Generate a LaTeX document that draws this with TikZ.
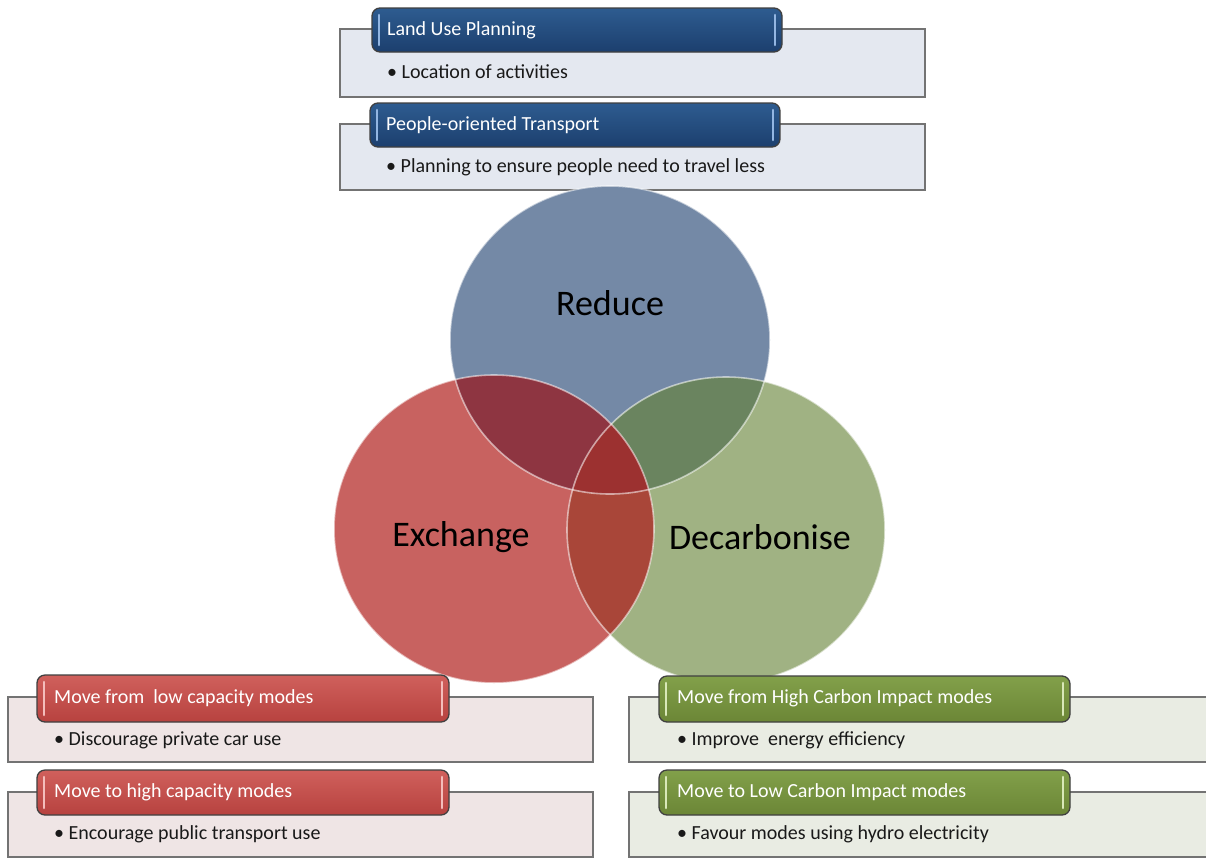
\documentclass[tikz,border=0pt]{standalone}
\usepackage{fontspec}
\setmainfont{Carlito}
\definecolor{bodyblue}{HTML}{E4E8F0}
\definecolor{bodyred}{HTML}{EFE5E5}
\definecolor{bodygreen}{HTML}{E9ECE3}
\definecolor{hblueT}{HTML}{2E5C90}
\definecolor{hblueB}{HTML}{1C3F6E}
\definecolor{hredT}{HTML}{D0605C}
\definecolor{hredB}{HTML}{B7423F}
\definecolor{hgreenT}{HTML}{82A04A}
\definecolor{hgreenB}{HTML}{6B8636}
\definecolor{barblue}{HTML}{93B6E2}
\definecolor{barred}{HTML}{F4BDBB}
\definecolor{bargreen}{HTML}{D9E8B8}
\definecolor{cR}{HTML}{7489A6}
\definecolor{cE}{HTML}{C86260}
\definecolor{cD}{HTML}{A0B283}
\definecolor{cRE}{HTML}{8E3541}
\definecolor{cRD}{HTML}{6A845F}
\definecolor{cED}{HTML}{A94639}
\definecolor{cRED}{HTML}{9C3130}
\tikzset{
  bodybox/.style={draw=black!55, line width=1.3pt},
  headbox/.style={draw=black!75, line width=1.3pt, rounded corners=8pt},
  hblue/.style={headbox, top color=hblueT, bottom color=hblueB},
  hred/.style={headbox, top color=hredT, bottom color=hredB},
  hgreen/.style={headbox, top color=hgreenT, bottom color=hgreenB},
  hbar/.style={line width=2.6pt, line cap=round},
  htext/.style={anchor=west, text=white, font=\fontsize{20}{24}\selectfont, inner sep=0pt},
  btext/.style={anchor=west, text=black!90, font=\fontsize{20}{24}\selectfont, inner sep=0pt},
  ctext/.style={text=black, font=\fontsize{36}{42}\selectfont, inner sep=0pt},
  rim/.style={draw=white, draw opacity=0.55, line width=1.6pt}
}
\begin{document}
\begin{tikzpicture}[x=1pt,y=-1pt]
\useasboundingbox (0,0) rectangle (1206,857);
\fill[white] (0,0) rectangle (1206,857);

% ---------- Reduce panels ----------
\path[bodybox, fill=bodyblue] (340,29) rectangle (925,97);
\path[hblue] (372,8) rectangle (782,52);
\draw[hbar, barblue] (379,15) -- (379,45);
\draw[hbar, barblue] (775,15) -- (775,45);
\node[htext] (lup) at (387,30) {Land Use Planning};
\node[btext] (lupb) at (387,72) {\textbullet\ Location of activities};

\path[bodybox, fill=bodyblue] (340,124) rectangle (925,190);
\path[hblue] (370,103) rectangle (780,147);
\draw[hbar, barblue] (377,110) -- (377,140);
\draw[hbar, barblue] (773,110) -- (773,140);
\node[htext] (pot) at (386,125) {People-oriented Transport};
\node[btext] (potb) at (386,167) {\textbullet\ Planning to ensure people need to travel less};

% ---------- Venn circles ----------
\def\cRpath{(610,340) ellipse [x radius=160pt, y radius=154pt]}
\def\cEpath{(494,529) ellipse [x radius=160pt, y radius=154pt]}
\def\cDpath{(726,530) ellipse [x radius=159pt, y radius=153pt]}
\fill[cR] \cRpath;
\fill[cD] \cDpath;
\fill[cE] \cEpath;
\begin{scope}
  \clip \cRpath;
  \fill[cRD] \cDpath;
  \fill[cRE] \cEpath;
\end{scope}
\begin{scope}
  \clip \cEpath;
  \fill[cED] \cDpath;
\end{scope}
\begin{scope}
  \clip \cRpath;
  \clip \cEpath;
  \fill[cRED] \cDpath;
\end{scope}
\draw[rim] \cRpath;
\draw[rim] \cDpath;
\draw[rim] \cEpath;
\node[ctext] (reduce) at (610,303) {Reduce};
\node[ctext] (exchange) at (461,537) {Exchange};
\node[ctext] (decarb) at (760,537) {Decarbonise};

% ---------- Exchange panels ----------
\path[bodybox, fill=bodyred] (8,697) rectangle (593,762);
\path[hred] (37,675) rectangle (449,722);
\draw[hbar, barred] (44,682) -- (44,715);
\draw[hbar, barred] (442,682) -- (442,715);
\node[htext] (mfl) at (54,698) {Move from\ \ low capacity modes};
\node[btext] (mflb) at (54,740) {\textbullet\ Discourage private car use};

\path[bodybox, fill=bodyred] (8,792) rectangle (593,857);
\path[hred] (37,770) rectangle (449,815);
\draw[hbar, barred] (44,777) -- (44,808);
\draw[hbar, barred] (442,777) -- (442,808);
\node[htext] (mth) at (54,792) {Move to high capacity modes};
\node[btext] (mthb) at (54,834) {\textbullet\ Encourage public transport use};

% ---------- Decarbonise panels ----------
\path[bodybox, fill=bodygreen] (629,697) rectangle (1210,762);
\path[hgreen] (659,676) rectangle (1070,722);
\draw[hbar, bargreen] (666,683) -- (666,715);
\draw[hbar, bargreen] (1063,683) -- (1063,715);
\node[htext] (mfh) at (677,698) {Move from High Carbon Impact modes};
\node[btext] (mfhb) at (677,740) {\textbullet\ Improve\ \ energy efficiency};

\path[bodybox, fill=bodygreen] (629,792) rectangle (1210,857);
\path[hgreen] (659,770) rectangle (1070,815);
\draw[hbar, bargreen] (666,777) -- (666,808);
\draw[hbar, bargreen] (1063,777) -- (1063,808);
\node[htext] (mtl) at (677,792) {Move to Low Carbon Impact modes};
\node[btext] (mtlb) at (677,834) {\textbullet\ Favour modes using hydro electricity};
\end{tikzpicture}
\end{document}
